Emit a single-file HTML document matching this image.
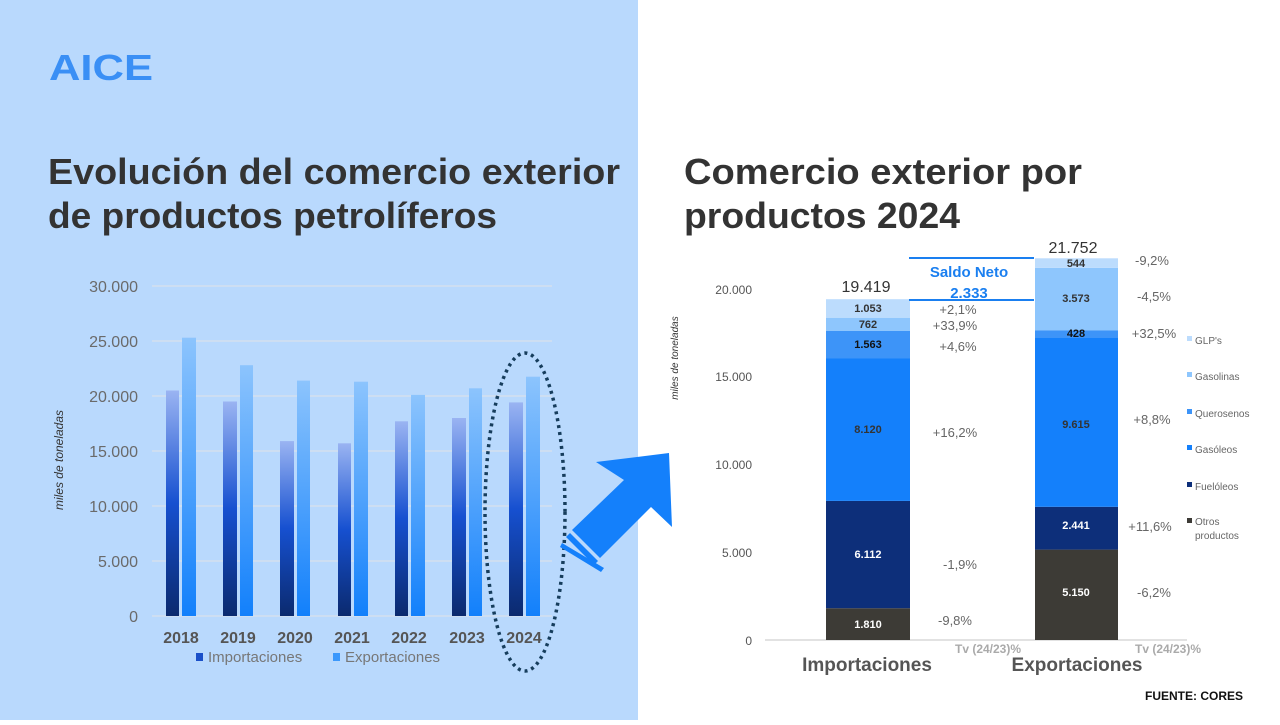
<!DOCTYPE html>
<html><head><meta charset="utf-8"><style>
body{margin:0;width:1280px;height:720px;overflow:hidden;background:#fff;font-family:"Liberation Sans",sans-serif}
</style></head><body>
<svg width="1280" height="720" viewBox="0 0 1280 720" xmlns="http://www.w3.org/2000/svg" font-family="Liberation Sans, sans-serif">
<defs>
<linearGradient id="gi" x1="0" y1="1" x2="0" y2="0"><stop offset="0" stop-color="#0b2a6e"/><stop offset="0.5" stop-color="#1650d0"/><stop offset="1" stop-color="#9ab4f2"/></linearGradient>
<linearGradient id="ge" x1="0" y1="1" x2="0" y2="0"><stop offset="0" stop-color="#1280fb"/><stop offset="1" stop-color="#8cc4fd"/></linearGradient>
</defs>
<rect x="0" y="0" width="638" height="720" fill="#b9d9fd"/>
<text x="49" y="80" font-size="36" font-weight="bold" fill="#3a8ff5" textLength="104" lengthAdjust="spacingAndGlyphs">AICE</text>
<text x="48" y="184" font-size="36" font-weight="bold" fill="#333" textLength="572" lengthAdjust="spacingAndGlyphs">Evolución del comercio exterior</text>
<text x="48" y="228" font-size="36" font-weight="bold" fill="#333" textLength="449" lengthAdjust="spacingAndGlyphs">de productos petrolíferos</text>
<text x="684" y="184" font-size="36" font-weight="bold" fill="#333" textLength="398" lengthAdjust="spacingAndGlyphs">Comercio exterior por</text>
<text x="684" y="228" font-size="36" font-weight="bold" fill="#333" textLength="276" lengthAdjust="spacingAndGlyphs">productos 2024</text>
<g stroke="#d4e0ee" stroke-width="1.5">
<line x1="152" y1="286" x2="552" y2="286"/><line x1="152" y1="341" x2="552" y2="341"/><line x1="152" y1="396" x2="552" y2="396"/><line x1="152" y1="451" x2="552" y2="451"/><line x1="152" y1="506" x2="552" y2="506"/><line x1="152" y1="561" x2="552" y2="561"/><line x1="152" y1="616" x2="552" y2="616"/>
</g>
<g font-size="16" fill="#6a6a6a" text-anchor="end">
<text x="138" y="292">30.000</text><text x="138" y="347">25.000</text><text x="138" y="402">20.000</text><text x="138" y="457">15.000</text><text x="138" y="512">10.000</text><text x="138" y="567">5.000</text><text x="138" y="622">0</text>
</g>
<text transform="translate(63,460) rotate(-90)" font-size="12" font-style="italic" fill="#333" text-anchor="middle">miles de toneladas</text>
<g fill="url(#gi)">
<rect x="166" y="390.5" width="13" height="225.5"/><rect x="223" y="401.5" width="14" height="214.5"/><rect x="280" y="441.1" width="14" height="174.9"/><rect x="338" y="443.3" width="13" height="172.7"/><rect x="395" y="421.3" width="13" height="194.7"/><rect x="452" y="418" width="14" height="198"/><rect x="509" y="402.4" width="14" height="213.6"/>
</g>
<g fill="url(#ge)">
<rect x="182" y="337.7" width="14" height="278.3"/><rect x="240" y="365.2" width="13" height="250.8"/><rect x="297" y="380.6" width="13" height="235.4"/><rect x="354" y="381.7" width="14" height="234.3"/><rect x="411" y="394.9" width="14" height="221.1"/><rect x="469" y="388.3" width="13" height="227.7"/><rect x="526" y="376.7" width="14" height="239.3"/>
</g>
<g font-size="16" font-weight="bold" fill="#555" text-anchor="middle">
<text x="181" y="643">2018</text><text x="238" y="643">2019</text><text x="295" y="643">2020</text><text x="352" y="643">2021</text><text x="409" y="643">2022</text><text x="467" y="643">2023</text><text x="524" y="643">2024</text>
</g>
<rect x="196" y="653" width="7" height="8" fill="#1a4fc8"/><text x="208" y="662" font-size="15" fill="#777">Importaciones</text>
<rect x="333" y="653" width="7" height="8" fill="#3b98fc"/><text x="345" y="662" font-size="15" fill="#777">Exportaciones</text>
<ellipse cx="525" cy="512" rx="40" ry="159" fill="none" stroke="#163d5c" stroke-width="3.5" stroke-dasharray="3 4"/>
<polygon points="596,462 669,453 672,527 651,507 600,558 572,530 624,480" fill="#1480fb"/>
<polygon points="570,533 598,561 594,565 566,537" fill="#1480fb"/>
<polygon points="562,543 604,568 601,572 560,547" fill="#1480fb"/>
<line x1="765" y1="640" x2="1187" y2="640" stroke="#d9d9d9" stroke-width="1.5"/>
<g font-size="12" fill="#555" text-anchor="end">
<text x="752" y="294">20.000</text><text x="752" y="381">15.000</text><text x="752" y="469">10.000</text><text x="752" y="557">5.000</text><text x="752" y="645">0</text>
</g>
<text transform="translate(678,358) rotate(-90)" font-size="10" font-style="italic" fill="#333" text-anchor="middle">miles de toneladas</text>
<g>
<rect x="826" y="608.2" width="84" height="31.8" fill="#3d3b36"/>
<rect x="826" y="500.9" width="84" height="107.3" fill="#0d2f7a"/>
<rect x="826" y="358.5" width="84" height="142.4" fill="#1480fb"/>
<rect x="826" y="331" width="84" height="27.5" fill="#3d94f8"/>
<rect x="826" y="317.7" width="84" height="13.3" fill="#8ec6fd"/>
<rect x="826" y="299.2" width="84" height="18.5" fill="#bcdcfd"/>
<rect x="1035" y="549.6" width="83" height="90.4" fill="#3d3b36"/>
<rect x="1035" y="506.8" width="83" height="42.8" fill="#0d2f7a"/>
<rect x="1035" y="338" width="83" height="168.8" fill="#1480fb"/>
<rect x="1035" y="330.5" width="83" height="7.5" fill="#3d94f8"/>
<rect x="1035" y="267.8" width="83" height="62.7" fill="#8ec6fd"/>
<rect x="1035" y="258.3" width="83" height="9.5" fill="#bcdcfd"/>
</g>
<g font-size="11" font-weight="bold" text-anchor="middle">
<text x="868" y="628" fill="#fff">1.810</text><text x="868" y="558" fill="#fff">6.112</text><text x="868" y="433" fill="#333">8.120</text><text x="868" y="348" fill="#111">1.563</text><text x="868" y="328" fill="#333">762</text><text x="868" y="312" fill="#333">1.053</text>
<text x="1076" y="596" fill="#fff">5.150</text><text x="1076" y="529" fill="#fff">2.441</text><text x="1076" y="428" fill="#333">9.615</text><text x="1076" y="337" fill="#111">428</text><text x="1076" y="302" fill="#333">3.573</text><text x="1076" y="267" fill="#333">544</text>
</g>
<text x="866" y="292" font-size="16" fill="#333" text-anchor="middle">19.419</text>
<text x="1073" y="253" font-size="16" fill="#333" text-anchor="middle">21.752</text>
<line x1="909" y1="258" x2="1034" y2="258" stroke="#1a7ff0" stroke-width="2"/>
<line x1="909" y1="300" x2="1034" y2="300" stroke="#1a7ff0" stroke-width="2"/>
<text x="969" y="277" font-size="15" font-weight="bold" fill="#1a7ff0" text-anchor="middle">Saldo Neto</text>
<text x="969" y="298" font-size="15" font-weight="bold" fill="#1a7ff0" text-anchor="middle">2.333</text>
<g font-size="13" fill="#666" text-anchor="middle">
<text x="958" y="314">+2,1%</text><text x="955" y="330">+33,9%</text><text x="958" y="351">+4,6%</text><text x="955" y="437">+16,2%</text><text x="960" y="569">-1,9%</text><text x="955" y="625">-9,8%</text>
<text x="1152" y="265">-9,2%</text><text x="1154" y="301">-4,5%</text><text x="1154" y="338">+32,5%</text><text x="1152" y="424">+8,8%</text><text x="1150" y="531">+11,6%</text><text x="1154" y="597">-6,2%</text>
</g>
<g font-size="10" fill="#666">
<rect x="1187" y="336" width="5" height="5" fill="#bcdcfd"/><text x="1195" y="344">GLP's</text>
<rect x="1187" y="372" width="5" height="5" fill="#8ec6fd"/><text x="1195" y="380">Gasolinas</text>
<rect x="1187" y="409" width="5" height="5" fill="#3d94f8"/><text x="1195" y="417">Querosenos</text>
<rect x="1187" y="445" width="5" height="5" fill="#1480fb"/><text x="1195" y="453">Gasóleos</text>
<rect x="1187" y="482" width="5" height="5" fill="#0d2f7a"/><text x="1195" y="490">Fuelóleos</text>
<rect x="1187" y="518" width="5" height="5" fill="#3d3b36"/><text x="1195" y="525">Otros</text><text x="1195" y="539">productos</text>
</g>
<text x="988" y="653" font-size="12" font-weight="bold" fill="#aaa" text-anchor="middle">Tv (24/23)%</text>
<text x="1168" y="653" font-size="12" font-weight="bold" fill="#aaa" text-anchor="middle">Tv (24/23)%</text>
<text x="867" y="671" font-size="19" font-weight="bold" fill="#555" text-anchor="middle">Importaciones</text>
<text x="1077" y="671" font-size="19" font-weight="bold" fill="#555" text-anchor="middle">Exportaciones</text>
<text x="1243" y="700" font-size="12" font-weight="bold" fill="#111" text-anchor="end">FUENTE: CORES</text>
</svg>
</body></html>
